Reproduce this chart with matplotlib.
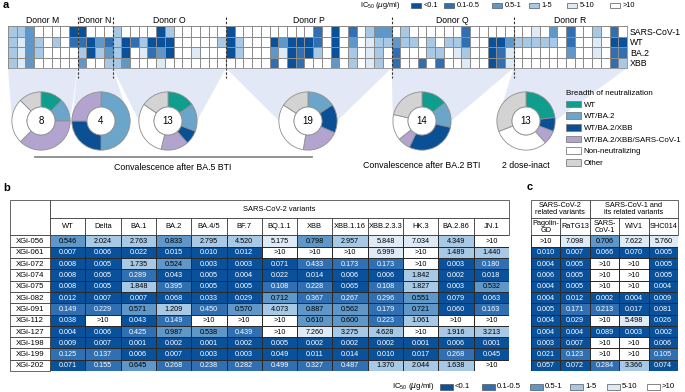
import numpy as np
import matplotlib
matplotlib.use('Agg')
import matplotlib.pyplot as plt
from matplotlib.colors import ListedColormap
from matplotlib.patches import Rectangle, Polygon, Patch

plt.rcParams['font.family'] = ['Liberation Sans', 'DejaVu Sans']
plt.rcParams['mathtext.fontset'] = 'custom'
plt.rcParams['mathtext.rm'] = 'Liberation Sans'

W, H = 685, 392

# IC50 colour bins
ic50_bins = ['<0.1', '0.1-0.5', '0.5-1', '1-5', '5-10', '>10']
ic50_colors = ['#0a519c', '#2f6fb2', '#5f97c9', '#a7c9e6', '#deeaf6', '#ffffff']
cmap = ListedColormap(ic50_colors)

# panel a: heatmap (bin index per mAb), donors in column order
heat_rows = ['SARS-CoV-1', 'WT', 'BA.2', 'XBB']
donors = ['Donor M', 'Donor N', 'Donor O', 'Donor P', 'Donor Q', 'Donor R']
donor_sizes = [8, 4, 13, 19, 14, 13]
heat_sars1 = [3, 3, 2, 5, 5, 5, 5, 0,
              0, 5, 5, 5,
              3, 5, 5, 5, 5, 0, 3, 5, 5, 5, 5, 5, 5,
              0, 5, 5, 5, 5, 5, 5, 5, 5, 5, 1, 5, 0, 5, 1, 5, 3, 2, 2,
              5, 3, 5, 5, 5, 5, 5, 5, 1, 5, 5, 5, 5, 5,
              5, 5, 4, 5, 2, 5, 1, 5, 5, 3, 5, 1, 5]
heat_wt = [3, 4, 2, 3, 5, 3, 5, 1,
           1, 0, 2, 1,
           3, 0, 1, 3, 0, 0, 0, 5, 5, 5, 5, 5, 3,
           0, 3, 5, 5, 5, 0, 2, 0, 0, 0, 1, 5, 0, 5, 2, 5, 4, 3, 3,
           2, 3, 3, 5, 3, 5, 3, 3, 1, 5, 5, 0, 0, 2,
           3, 3, 3, 3, 3, 5, 1, 5, 5, 4, 5, 0, 0]
heat_ba2 = [3, 4, 2, 3, 5, 5, 5, 5,
            3, 0, 3, 2,
            3, 0, 5, 4, 1, 2, 0, 5, 5, 4, 5, 5, 5,
            0, 3, 5, 5, 5, 2, 4, 0, 1, 0, 3, 5, 0, 5, 3, 5, 4, 3, 5,
            1, 5, 5, 5, 3, 3, 5, 4, 3, 5, 5, 0, 1, 4,
            5, 5, 5, 5, 5, 5, 2, 5, 5, 4, 5, 1, 1]
heat_xbb = [3, 4, 2, 5, 5, 5, 5, 5,
            2, 5, 5, 3,
            3, 2, 5, 5, 5, 4, 5, 5, 5, 5, 5, 5, 5,
            5, 5, 5, 5, 5, 1, 5, 0, 1, 5, 5, 5, 2, 5, 3, 5, 4, 3, 5,
            1, 5, 5, 1, 5, 1, 5, 5, 4, 5, 5, 0, 1, 4,
            5, 5, 5, 5, 5, 5, 5, 5, 5, 5, 5, 1, 3]

# panel a: breadth donuts
breadth_labels = ['WT', 'WT/BA.2', 'WT/BA.2/XBB', 'WT/BA.2/XBB/SARS-CoV-1',
                  'Non-neutralizing', 'Other']
breadth_colors = ['#0f9e8d', '#6ba6ca', '#0b4f95', '#b3a3cf', '#ffffff', '#d3d3d3']
breadth_m = [1, 1, 0, 3, 2, 1]
breadth_n = [0, 2, 1, 1, 0, 0]
breadth_o = [2, 2, 1, 2, 4, 2]
breadth_p = [0, 3, 3, 4, 6, 3]
breadth_q = [2, 2, 4, 1, 2, 3]
breadth_r = [3, 0, 1, 1, 4, 4]

# panels b and c: IC50 (ug/ml)
mabs = ['XGi-056', 'XGi-061', 'XGi-072', 'XGi-074', 'XGi-075', 'XGi-082',
        'XGi-091', 'XGi-112', 'XGi-127', 'XGi-198', 'XGi-199', 'XGi-202']
b_variants = ['WT', 'Delta', 'BA.1', 'BA.2', 'BA.4/5', 'BF.7', 'BQ.1.1', 'XBB',
              'XBB.1.16', 'XBB.2.3.3', 'HK.3', 'BA.2.86', 'JN.1']
c_variants = ['Pagolin-\nGD', 'RaTG13', 'SARS-\nCoV-1', 'WIV1', 'SHC014']
b_056 = ['0.546', '2.024', '2.763', '0.833', '2.795', '4.520', '5.175', '0.798', '2.957', '5.848', '7.034', '4.349', '>10']
b_061 = ['0.007', '0.006', '0.022', '0.015', '0.010', '0.012', '>10', '>10', '>10', '6.999', '>10', '1.489', '1.440']
b_072 = ['0.008', '0.005', '1.735', '0.524', '0.003', '0.003', '0.071', '0.433', '0.173', '0.173', '>10', '0.003', '0.180']
b_074 = ['0.008', '0.005', '0.289', '0.043', '0.005', '0.004', '0.022', '0.014', '0.006', '0.006', '1.842', '0.002', '0.018']
b_075 = ['0.008', '0.005', '1.848', '0.395', '0.005', '0.005', '0.108', '0.228', '0.065', '0.108', '1.827', '0.003', '0.532']
b_082 = ['0.012', '0.007', '0.007', '0.068', '0.033', '0.029', '0.712', '0.367', '0.267', '0.296', '0.551', '0.079', '0.063']
b_091 = ['0.149', '0.229', '0.571', '1.209', '0.450', '0.570', '4.073', '0.887', '0.562', '0.179', '0.721', '0.060', '0.163']
b_112 = ['0.038', '>10', '0.043', '0.149', '>10', '>10', '>10', '0.610', '0.600', '0.223', '1.061', '>10', '>10']
b_127 = ['0.004', '0.006', '0.425', '0.987', '0.538', '0.439', '>10', '7.260', '3.275', '4.628', '>10', '1.916', '3.213']
b_198 = ['0.009', '0.007', '0.001', '0.002', '0.001', '0.002', '0.005', '0.002', '0.002', '0.002', '0.001', '0.006', '0.001']
b_199 = ['0.125', '0.137', '0.006', '0.007', '0.003', '0.003', '0.049', '0.011', '0.014', '0.010', '0.017', '0.268', '0.045']
b_202 = ['0.071', '0.155', '0.645', '0.268', '0.238', '0.282', '0.499', '0.327', '0.487', '1.370', '2.044', '1.638', '>10']
c_056 = ['>10', '7.098', '0.706', '7.622', '5.760']
c_061 = ['0.010', '0.007', '0.066', '0.070', '0.005']
c_072 = ['0.004', '0.005', '>10', '>10', '0.005']
c_074 = ['0.006', '0.005', '>10', '>10', '0.005']
c_075 = ['0.004', '0.005', '>10', '>10', '0.004']
c_082 = ['0.004', '0.012', '0.002', '0.004', '0.009']
c_091 = ['0.005', '0.171', '0.213', '0.017', '0.081']
c_112 = ['0.004', '0.029', '>10', '5.498', '0.026']
c_127 = ['0.004', '0.004', '0.089', '0.003', '0.002']
c_198 = ['0.003', '0.007', '>10', '>10', '0.006']
c_199 = ['0.021', '0.123', '>10', '>10', '0.105']
c_202 = ['0.057', '0.072', '0.284', '3.366', '0.074']

table_b = [b_056, b_061, b_072, b_074, b_075, b_082, b_091, b_112, b_127, b_198, b_199, b_202]
table_c = [c_056, c_061, c_072, c_074, c_075, c_082, c_091, c_112, c_127, c_198, c_199, c_202]


def box(x0, y0, x1, y1):
    # pixel layout box -> figure fraction
    return [x0 / W, 1 - y1 / H, (x1 - x0) / W, (y1 - y0) / H]


def ic50_bin(s):
    if s == '>10':
        return 5
    v = float(s)
    for i, edge in enumerate([0.1, 0.5, 1, 5, 10]):
        if v < edge:
            return i
    return 5


fig = plt.figure(figsize=(W / 100, H / 100), dpi=100)

bg = fig.add_axes([0, 0, 1, 1], zorder=-5)
bg.set_xlim(0, W)
bg.set_ylim(H, 0)
bg.set_axis_off()

# ---------------- panel a ----------------
hx0, hx1, hy0, hy1 = 8, 627, 26, 68
ncol = sum(donor_sizes)
heat = np.array([heat_sars1, heat_wt, heat_ba2, heat_xbb])
ax = fig.add_axes(box(hx0, hy0, hx1, hy1))
ax.pcolormesh(heat, cmap=cmap, vmin=-0.5, vmax=5.5, edgecolors='#8c8c8c', linewidth=0.5)
ax.set_xlim(0, ncol)
ax.set_ylim(4, 0)
ax.set_xticks([])
ax.set_yticks(np.arange(4) + 0.5)
ax.set_yticklabels(heat_rows, fontsize=6.3)
ax.yaxis.tick_right()
ax.tick_params(axis='y', length=0, pad=2)
for s in ax.spines.values():
    s.set_color('#8c8c8c')
    s.set_linewidth(0.6)

bounds = np.concatenate([[0], np.cumsum(donor_sizes)])
ax.vlines(bounds[1:-1], -0.85, 4.95, colors='#333333', linestyles=(0, (2.2, 1.6)),
          linewidth=0.8, clip_on=False)
for i, name in enumerate(donors):
    ax.text((bounds[i] + bounds[i + 1]) / 2, -0.55, name, ha='center', va='center',
            fontsize=6.2, clip_on=False)

# donuts + connectors
donut_cx = [41, 101, 168, 308, 422, 526]
donut_cy, donut_r = 121, 29
cell_w = (hx1 - hx0) / ncol
breadths = [breadth_m, breadth_n, breadth_o, breadth_p, breadth_q, breadth_r]
for i, vals in enumerate(breadths):
    cx = donut_cx[i]
    xa, xb = hx0 + bounds[i] * cell_w, hx0 + bounds[i + 1] * cell_w
    bg.add_patch(Polygon([(xa, hy1), (xb, hy1), (cx + donut_r, donut_cy), (cx - donut_r, donut_cy)],
                         closed=True, facecolor='#e3e8f6', edgecolor='none'))
    dax = fig.add_axes(box(cx - donut_r - 1, donut_cy - donut_r - 1, cx + donut_r + 1, donut_cy + donut_r + 1))
    keep = [k for k, v in enumerate(vals) if v > 0]
    dax.pie([vals[k] for k in keep], colors=[breadth_colors[k] for k in keep],
            startangle=90, counterclock=False, radius=1,
            wedgeprops=dict(width=0.52, edgecolor='#8f8f8f', linewidth=0.6))
    dax.add_patch(plt.Circle((0, 0), 0.48, facecolor='white', edgecolor='#8f8f8f', linewidth=0.6))
    dax.text(0, 0, str(sum(vals)), ha='center', va='center', fontsize=7)
    dax.set_xlim(-1.03, 1.03)
    dax.set_ylim(-1.03, 1.03)
    dax.set_aspect('equal')
    dax.set_axis_off()

bg.plot([35, 312], [157, 157], color='#8a8a8a', linewidth=1.3)
bg.text(173, 167, 'Convalescence after BA.5 BTI', ha='center', va='center', fontsize=6.3)
bg.text(422, 165, 'Convalescence after BA.2 BTI', ha='center', va='center', fontsize=6.3)
bg.text(526, 165, '2 dose-inact', ha='center', va='center', fontsize=6.3)

leg = fig.legend([Patch(facecolor=c, edgecolor='#7f7f7f', linewidth=0.6) for c in breadth_colors],
                 breadth_labels, title='Breadth of neutralization', loc='upper left',
                 bbox_to_anchor=(566 / W, 1 - 90 / H), frameon=False, fontsize=5.7,
                 title_fontsize=5.8, handlelength=1.9, handleheight=0.95, labelspacing=0.45,
                 handletextpad=0.35, borderpad=0, borderaxespad=0, alignment='left')


def ic50_legend(y, x_boxes, bw, bh, title_x, fs):
    bg.text(title_x, y, r'IC$_{50}$ ($\mu$g/ml)', ha='left', va='center', fontsize=fs)
    for x, c, lab in zip(x_boxes, ic50_colors, ic50_bins):
        bg.add_patch(Rectangle((x, y - bh / 2), bw, bh, facecolor=c, edgecolor='#555555', linewidth=0.5))
        bg.text(x + bw + 2, y, lab, ha='left', va='center', fontsize=fs)


ic50_legend(5.5, [411, 444, 492, 529, 567, 610], 10.5, 5, 360, 5.3)
ic50_legend(387, [440, 482, 530, 570, 607, 647], 13, 6, 392, 5.6)

# ---------------- panels b and c ----------------
head_top, head_mid = 3.14, 1.54


def draw_table(axt, values, col_names, groups, fs_head):
    cats = np.array([[ic50_bin(s) for s in row] for row in values])
    nr, nc = cats.shape
    axt.pcolormesh(cats, cmap=cmap, vmin=-0.5, vmax=5.5, edgecolors='#2a2a2a', linewidth=0.4)
    for i in range(nr):
        for j in range(nc):
            axt.text(j + 0.5, i + 0.55, values[i][j], ha='center', va='center', fontsize=5.2,
                     color='white' if cats[i, j] <= 1 else 'black')
    for j, name in enumerate(col_names):
        axt.add_patch(Rectangle((j, -head_mid), 1, head_mid, facecolor='white', edgecolor='#2a2a2a',
                                linewidth=0.5, clip_on=False))
        axt.text(j + 0.5, -head_mid / 2, name, ha='center', va='center', fontsize=fs_head,
                 linespacing=1.0)
    for g0, g1, lab in groups:
        axt.add_patch(Rectangle((g0, -head_top), g1 - g0, head_top - head_mid, facecolor='white',
                                edgecolor='#2a2a2a', linewidth=0.5, clip_on=False))
        axt.text((g0 + g1) / 2, -(head_top + head_mid) / 2, lab, ha='center', va='center',
                 fontsize=fs_head, linespacing=1.0)
    axt.set_xlim(axt.get_xlim()[0], nc)
    axt.set_ylim(nr, -head_top)
    axt.set_axis_off()


lab_w = 1.133
axb = fig.add_axes(box(10, 200, 509, 371))
axb.set_xlim(-lab_w, 13)
draw_table(axb, table_b, b_variants, [(0, 13, 'SARS-CoV-2 variants')], 5.4)
axb.add_patch(Rectangle((-lab_w, -head_top), lab_w, head_top, facecolor='white', edgecolor='#2a2a2a',
                        linewidth=0.5, clip_on=False))
for i, m in enumerate(mabs):
    axb.add_patch(Rectangle((-lab_w, i), lab_w, 1, facecolor='white', edgecolor='#2a2a2a',
                            linewidth=0.5, clip_on=False))
    axb.text(-lab_w / 2, i + 0.55, m, ha='center', va='center', fontsize=5.6)

axc = fig.add_axes(box(531, 200, 678, 371))
axc.set_xlim(0, 5)
draw_table(axc, table_c, c_variants,
           [(0, 2, 'SARS-CoV-2\nrelated variants'), (2, 5, 'SARS-CoV-1 and\nits related variants')], 5.3)

fig.text(3 / W, 1 - 5 / H, 'a', fontsize=8, fontweight='bold', va='center')
fig.text(3 / W, 1 - 188 / H, 'b', fontsize=8, fontweight='bold', va='center')
fig.text(527 / W, 1 - 187 / H, 'c', fontsize=8, fontweight='bold', va='center')

fig.savefig('out.png', dpi=100)
